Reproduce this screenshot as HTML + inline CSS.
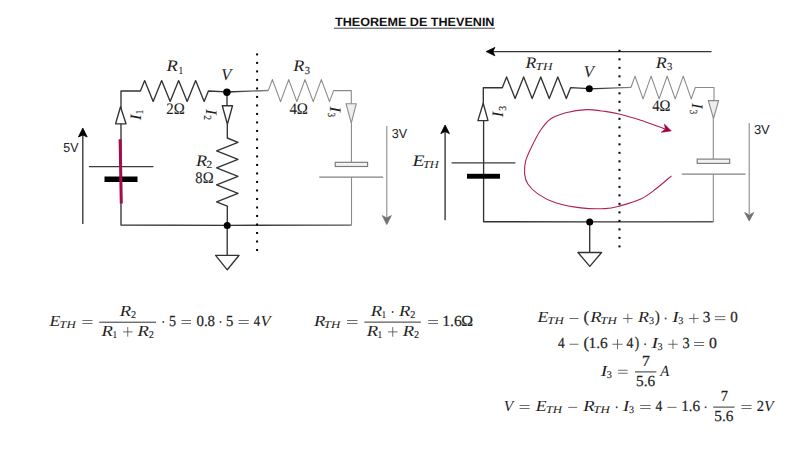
<!DOCTYPE html>
<html><head><meta charset="utf-8"><style>
html,body{margin:0;padding:0;background:#fff;}
svg{display:block;}
text{text-rendering:geometricPrecision;}
</style></head><body>
<svg width="806" height="453" viewBox="0 0 806 453">
<rect width="806" height="453" fill="#fff"/>
<defs><linearGradient id="gw1" x1="227" y1="0" x2="268" y2="0" gradientUnits="userSpaceOnUse"><stop offset="0" stop-color="#222"/><stop offset="1" stop-color="#888"/></linearGradient><linearGradient id="gw2" x1="589" y1="0" x2="631" y2="0" gradientUnits="userSpaceOnUse"><stop offset="0" stop-color="#222"/><stop offset="1" stop-color="#888"/></linearGradient><linearGradient id="gb1" x1="227" y1="0" x2="352" y2="0" gradientUnits="userSpaceOnUse"><stop offset="0" stop-color="#333"/><stop offset="1" stop-color="#555"/></linearGradient><linearGradient id="gb2" x1="589" y1="0" x2="714" y2="0" gradientUnits="userSpaceOnUse"><stop offset="0" stop-color="#333"/><stop offset="1" stop-color="#555"/></linearGradient></defs>
<path d="M121.00 124.00 L121.00 91.00 L140.40 91.00 L144.65 80.60 L153.15 101.40 L161.65 80.60 L170.15 101.40 L178.65 80.60 L187.15 101.40 L195.65 80.60 L204.15 101.40 L208.40 91.00 L226.80 91.80" stroke="#333333" stroke-width="1.35" fill="none" stroke-linejoin="round"/>
<path d="M121.00 124.00 L121.00 225.00 L227.30 225.30" stroke="#333333" stroke-width="1.35" fill="none" stroke-linejoin="round"/>
<path d="M115.60 123.80 L126.00 123.80 L120.50 106.80 Z" stroke="#333333" stroke-width="1.35" fill="#fff" stroke-linejoin="round"/>
<line x1="88.9" y1="166.6" x2="153.4" y2="166.6" stroke="#3a3a3a" stroke-width="1.15"/>
<rect x="104.5" y="176.5" width="33" height="5.5" fill="#000"/>
<line x1="120.1" y1="139.3" x2="121.3" y2="203.5" stroke="#A50D4A" stroke-width="3"/>
<line x1="82.8" y1="223.9" x2="82.8" y2="135" stroke="#333333" stroke-width="1.35"/>
<path d="M82.8 128.1 L87.2 137 L82.8 135 L78.4 137 Z" stroke="#000" stroke-width="0.8" fill="#000" stroke-linejoin="round"/>
<path d="M227.00 92.00 L227.00 105.70" stroke="#333333" stroke-width="1.35" fill="none" stroke-linejoin="round"/>
<path d="M222.30 105.70 L232.50 105.70 L227.40 124.30 Z" stroke="#333333" stroke-width="1.35" fill="#fff" stroke-linejoin="round"/>
<path d="M227.30 124.30 L227.30 138.00 L238.00 142.26 L216.60 150.79 L238.00 159.31 L216.60 167.84 L238.00 176.36 L216.60 184.89 L238.00 193.41 L216.60 201.94 L227.30 206.20 L227.30 225.30" stroke="#333333" stroke-width="1.35" fill="none" stroke-linejoin="round"/>
<line x1="227.2" y1="225.5" x2="227.2" y2="255.3" stroke="#333333" stroke-width="1.35"/>
<path d="M215.60 255.30 L239.10 255.30 L227.30 269.80 Z" stroke="#333333" stroke-width="1.35" fill="#fff" stroke-linejoin="round"/>
<path d="M227.30 225.30 L351.50 225.10" stroke="url(#gb1)" stroke-width="1.35" fill="none" stroke-linejoin="round"/>
<path d="M226.8 92 L268.3 90.5" stroke="url(#gw1)" stroke-width="1.3" fill="none"/>
<path d="M268.30 90.60 L272.38 79.60 L280.54 101.60 L288.71 79.60 L296.87 101.60 L305.03 79.60 L313.19 101.60 L321.36 79.60 L329.52 101.60 L333.60 90.60 L351.30 90.60 L351.30 103.70" stroke="#8a8a8a" stroke-width="1.1" fill="none" stroke-linejoin="round"/>
<path d="M346.00 103.70 L356.30 103.70 L351.30 123.20 Z" stroke="#8a8a8a" stroke-width="1.1" fill="#eeeeee" stroke-linejoin="round"/>
<line x1="351.4" y1="123.2" x2="351.4" y2="162.3" stroke="#8a8a8a" stroke-width="1.1"/>
<rect x="335.2" y="162.3" width="32.4" height="4.2" fill="#f2f2f2" stroke="#7a7a7a" stroke-width="1.15"/>
<line x1="319.3" y1="177.2" x2="383.1" y2="177.2" stroke="#828282" stroke-width="1.25"/>
<line x1="351.5" y1="177.2" x2="351.5" y2="225.3" stroke="#8a8a8a" stroke-width="1.1"/>
<line x1="386.8" y1="126.1" x2="386.8" y2="218" stroke="#8a8a8a" stroke-width="1.1"/>
<path d="M386.8 224.5 L391.3 215.6 L386.8 218 L382.3 215.6 Z" stroke="#707070" stroke-width="0.8" fill="#707070" stroke-linejoin="round"/>
<rect x="256.1" y="53.40" width="2" height="2" fill="#000"/><rect x="256.1" y="61.90" width="2" height="2" fill="#000"/><rect x="256.1" y="70.41" width="2" height="2" fill="#000"/><rect x="256.1" y="78.91" width="2" height="2" fill="#000"/><rect x="256.1" y="87.42" width="2" height="2" fill="#000"/><rect x="256.1" y="95.92" width="2" height="2" fill="#000"/><rect x="256.1" y="104.42" width="2" height="2" fill="#000"/><rect x="256.1" y="112.93" width="2" height="2" fill="#000"/><rect x="256.1" y="121.43" width="2" height="2" fill="#000"/><rect x="256.1" y="129.94" width="2" height="2" fill="#000"/><rect x="256.1" y="138.44" width="2" height="2" fill="#000"/><rect x="256.1" y="146.94" width="2" height="2" fill="#000"/><rect x="256.1" y="155.45" width="2" height="2" fill="#000"/><rect x="256.1" y="163.95" width="2" height="2" fill="#000"/><rect x="256.1" y="172.46" width="2" height="2" fill="#000"/><rect x="256.1" y="180.96" width="2" height="2" fill="#000"/><rect x="256.1" y="189.46" width="2" height="2" fill="#000"/><rect x="256.1" y="197.97" width="2" height="2" fill="#000"/><rect x="256.1" y="206.47" width="2" height="2" fill="#000"/><rect x="256.1" y="214.98" width="2" height="2" fill="#000"/><rect x="256.1" y="223.48" width="2" height="2" fill="#000"/><rect x="256.1" y="231.98" width="2" height="2" fill="#000"/><rect x="256.1" y="240.49" width="2" height="2" fill="#000"/><rect x="256.1" y="248.99" width="2" height="2" fill="#000"/>
<line x1="711.5" y1="51.6" x2="492" y2="51.6" stroke="#333333" stroke-width="1.35"/>
<path d="M486 51.6 L495 47.3 L493 51.6 L495 55.9 Z" stroke="#000" stroke-width="0.6" fill="#000" stroke-linejoin="round"/>
<path d="M483.30 120.60 L483.30 87.70 L502.30 87.70 L506.57 76.90 L515.11 98.50 L523.64 76.90 L532.18 98.50 L540.72 76.90 L549.26 98.50 L557.79 76.90 L566.33 98.50 L570.60 87.70 L589.30 88.60" stroke="#333333" stroke-width="1.35" fill="none" stroke-linejoin="round"/>
<path d="M483.60 120.60 L483.60 221.70 L589.70 221.90" stroke="#333333" stroke-width="1.35" fill="none" stroke-linejoin="round"/>
<path d="M477.90 120.60 L488.00 120.60 L483.20 103.30 Z" stroke="#333333" stroke-width="1.35" fill="#fff" stroke-linejoin="round"/>
<line x1="451.6" y1="162.9" x2="515.4" y2="162.9" stroke="#3a3a3a" stroke-width="1.15"/>
<rect x="467" y="173.8" width="33" height="4.9" fill="#000"/>
<line x1="445.1" y1="220.2" x2="445.1" y2="131" stroke="#333333" stroke-width="1.35"/>
<path d="M445.1 125.0 L449.4 133.6 L445.1 131.6 L440.8 133.6 Z" stroke="#000" stroke-width="0.8" fill="#000" stroke-linejoin="round"/>
<line x1="589.7" y1="222" x2="589.7" y2="252.5" stroke="#333333" stroke-width="1.35"/>
<path d="M578.00 252.50 L601.60 252.50 L589.80 266.40 Z" stroke="#333333" stroke-width="1.35" fill="#fff" stroke-linejoin="round"/>
<path d="M589.70 221.90 L713.30 221.70" stroke="url(#gb2)" stroke-width="1.35" fill="none" stroke-linejoin="round"/>
<path d="M589.3 88.8 L631 87.4" stroke="url(#gw2)" stroke-width="1.3" fill="none"/>
<path d="M631.00 87.50 L635.02 76.10 L643.06 98.90 L651.09 76.10 L659.13 98.90 L667.17 76.10 L675.21 98.90 L683.24 76.10 L691.28 98.90 L695.30 87.50 L714.00 87.50 L714.00 100.60" stroke="#8a8a8a" stroke-width="1.1" fill="none" stroke-linejoin="round"/>
<path d="M708.30 100.60 L718.60 100.60 L713.50 118.50 Z" stroke="#8a8a8a" stroke-width="1.1" fill="#eeeeee" stroke-linejoin="round"/>
<line x1="713.3" y1="118.5" x2="713.3" y2="158.9" stroke="#8a8a8a" stroke-width="1.1"/>
<rect x="697.2" y="159.1" width="32.5" height="4.3" fill="#f2f2f2" stroke="#7a7a7a" stroke-width="1.15"/>
<line x1="681.8" y1="174" x2="745.6" y2="174" stroke="#828282" stroke-width="1.25"/>
<line x1="713.3" y1="174" x2="713.3" y2="221.9" stroke="#8a8a8a" stroke-width="1.1"/>
<line x1="749.2" y1="122.9" x2="749.2" y2="214" stroke="#8a8a8a" stroke-width="1.1"/>
<path d="M749.2 221.0 L753.7 212.6 L749.2 215 L744.7 212.6 Z" stroke="#707070" stroke-width="0.8" fill="#707070" stroke-linejoin="round"/>
<rect x="618.5" y="49.80" width="2" height="2" fill="#000"/><rect x="618.5" y="58.30" width="2" height="2" fill="#000"/><rect x="618.5" y="66.81" width="2" height="2" fill="#000"/><rect x="618.5" y="75.31" width="2" height="2" fill="#000"/><rect x="618.5" y="83.82" width="2" height="2" fill="#000"/><rect x="618.5" y="92.32" width="2" height="2" fill="#000"/><rect x="618.5" y="100.82" width="2" height="2" fill="#000"/><rect x="618.5" y="109.33" width="2" height="2" fill="#000"/><rect x="618.5" y="117.83" width="2" height="2" fill="#000"/><rect x="618.5" y="126.34" width="2" height="2" fill="#000"/><rect x="618.5" y="134.84" width="2" height="2" fill="#000"/><rect x="618.5" y="143.34" width="2" height="2" fill="#000"/><rect x="618.5" y="151.85" width="2" height="2" fill="#000"/><rect x="618.5" y="160.35" width="2" height="2" fill="#000"/><rect x="618.5" y="168.86" width="2" height="2" fill="#000"/><rect x="618.5" y="177.36" width="2" height="2" fill="#000"/><rect x="618.5" y="185.86" width="2" height="2" fill="#000"/><rect x="618.5" y="194.37" width="2" height="2" fill="#000"/><rect x="618.5" y="202.87" width="2" height="2" fill="#000"/><rect x="618.5" y="211.38" width="2" height="2" fill="#000"/><rect x="618.5" y="219.88" width="2" height="2" fill="#000"/><rect x="618.5" y="228.38" width="2" height="2" fill="#000"/><rect x="618.5" y="236.89" width="2" height="2" fill="#000"/><rect x="618.5" y="245.39" width="2" height="2" fill="#000"/>
<path d="M671.50 175.80 C668.92 177.97 661.12 184.93 656.00 188.80 C650.88 192.67 646.93 196.12 640.80 199.00 C634.67 201.88 625.15 204.50 619.20 206.10 C613.25 207.70 611.47 208.30 605.10 208.60 C598.73 208.90 589.25 208.87 581.00 207.90 C572.75 206.93 562.80 205.13 555.60 202.80 C548.40 200.47 542.45 197.07 537.80 193.90 C533.15 190.73 529.90 187.18 527.70 183.80 C525.50 180.42 524.93 177.42 524.60 173.60 C524.27 169.78 524.55 165.33 525.70 160.90 C526.85 156.47 529.05 152.07 531.50 147.00 C533.95 141.93 537.23 135.17 540.40 130.50 C543.57 125.83 546.27 121.97 550.50 119.00 C554.73 116.03 559.87 114.27 565.80 112.70 C571.73 111.13 579.55 109.82 586.10 109.60 C592.65 109.38 599.58 110.67 605.10 111.40 C610.62 112.13 613.25 112.52 619.20 114.00 C625.15 115.48 634.25 118.20 640.80 120.30 C647.35 122.40 654.47 125.17 658.50 126.60 C662.53 128.03 663.92 128.52 665.00 128.90" stroke="#B0205A" stroke-width="1.1" fill="none"/>
<path d="M671.3 130.9 L664.3 123.9 L665.3 128.9 L661.1 132.4 Z" fill="#A50040" stroke="#A50040" stroke-width="0.5"/>
<circle cx="226.9" cy="92.2" r="3.7" fill="#000"/>
<circle cx="227.2" cy="225.5" r="3.5" fill="#000"/>
<circle cx="589.3" cy="88.8" r="3.5" fill="#000"/>
<circle cx="589.7" cy="222" r="3.5" fill="#000"/>
<text transform="matrix(1.1562 0 0 1 166.59 71.10)" font-family="Liberation Serif" font-style="italic" font-weight="normal" font-size="16.00" fill="#1e1e1e">R</text>
<text transform="matrix(0.8668 0 0 1 178.38 73.60)" font-family="Liberation Serif" font-style="normal" font-weight="normal" font-size="10.80" fill="#1e1e1e" stroke="#1e1e1e" stroke-width="0.12">1</text>
<text transform="matrix(0.9259 0 0 1 166.33 113.90)" font-family="Liberation Serif" font-style="normal" font-weight="normal" font-size="16.00" fill="#1e1e1e" stroke="#1e1e1e" stroke-width="0.12">2Ω</text>
<text transform="matrix(1.0116 0 0 1 221.23 79.76)" font-family="Liberation Serif" font-style="italic" font-weight="normal" font-size="16.30" fill="#1e1e1e">V</text>
<text transform="matrix(1.1354 0 0 1 293.29 71.10)" font-family="Liberation Serif" font-style="italic" font-weight="normal" font-size="16.00" fill="#1e1e1e">R</text>
<text transform="matrix(0.9652 0 0 1 304.70 73.59)" font-family="Liberation Serif" font-style="normal" font-weight="normal" font-size="10.80" fill="#1e1e1e" stroke="#1e1e1e" stroke-width="0.12">3</text>
<text transform="matrix(0.9328 0 0 1 289.40 114.10)" font-family="Liberation Serif" font-style="normal" font-weight="normal" font-size="16.00" fill="#1e1e1e" stroke="#1e1e1e" stroke-width="0.12">4Ω</text>
<text transform="matrix(1.1354 0 0 1 195.99 166.30)" font-family="Liberation Serif" font-style="italic" font-weight="normal" font-size="16.00" fill="#1e1e1e">R</text>
<text transform="matrix(1.0648 0 0 1 206.48 168.30)" font-family="Liberation Serif" font-style="normal" font-weight="normal" font-size="10.80" fill="#1e1e1e" stroke="#1e1e1e" stroke-width="0.12">2</text>
<text transform="matrix(0.9145 0 0 1 195.35 183.04)" font-family="Liberation Serif" font-style="normal" font-weight="normal" font-size="16.00" fill="#1e1e1e" stroke="#1e1e1e" stroke-width="0.12">8Ω</text>
<text transform="matrix(1.1042 0 0 1 525.59 67.90)" font-family="Liberation Serif" font-style="italic" font-weight="normal" font-size="16.00" fill="#1e1e1e">R</text>
<text transform="matrix(1.2223 0 0 1 535.54 69.60)" font-family="Liberation Serif" font-style="italic" font-weight="normal" font-size="10.80" fill="#1e1e1e">TH</text>
<text transform="matrix(1.0209 0 0 1 583.83 77.06)" font-family="Liberation Serif" font-style="italic" font-weight="normal" font-size="16.30" fill="#1e1e1e">V</text>
<text transform="matrix(1.1250 0 0 1 655.79 67.90)" font-family="Liberation Serif" font-style="italic" font-weight="normal" font-size="16.00" fill="#1e1e1e">R</text>
<text transform="matrix(0.9877 0 0 1 667.09 69.79)" font-family="Liberation Serif" font-style="normal" font-weight="normal" font-size="10.80" fill="#1e1e1e" stroke="#1e1e1e" stroke-width="0.12">3</text>
<text transform="matrix(0.9168 0 0 1 652.21 110.90)" font-family="Liberation Serif" font-style="normal" font-weight="normal" font-size="16.00" fill="#1e1e1e" stroke="#1e1e1e" stroke-width="0.12">4Ω</text>
<text transform="matrix(1.2243 0 0 1 412.44 165.90)" font-family="Liberation Serif" font-style="italic" font-weight="normal" font-size="16.00" fill="#1e1e1e">E</text>
<text transform="matrix(1.1560 0 0 1 422.89 167.90)" font-family="Liberation Serif" font-style="italic" font-weight="normal" font-size="10.80" fill="#1e1e1e">TH</text>
<g transform="translate(141.0 120.7) rotate(-90)">
<text transform="matrix(1.1167 0 0 1 0.34 0.00)" font-family="Liberation Serif" font-style="italic" font-weight="normal" font-size="16.00" fill="#1e1e1e">I</text>
<text transform="matrix(0.8143 0 0 1 6.53 2.00)" font-family="Liberation Serif" font-style="normal" font-weight="normal" font-size="10.80" fill="#1e1e1e" stroke="#1e1e1e" stroke-width="0.12">1</text>
</g>
<g transform="translate(206.0 108.6) rotate(90)">
<text transform="matrix(1.0833 0 0 1 0.34 0.00)" font-family="Liberation Serif" font-style="italic" font-weight="normal" font-size="16.00" fill="#1e1e1e">I</text>
<text transform="matrix(0.8796 0 0 1 6.67 1.90)" font-family="Liberation Serif" font-style="normal" font-weight="normal" font-size="10.80" fill="#1e1e1e" stroke="#1e1e1e" stroke-width="0.12">2</text>
</g>
<g transform="translate(330.0 105.8) rotate(90)">
<text transform="matrix(1.1167 0 0 1 0.34 0.00)" font-family="Liberation Serif" font-style="italic" font-weight="normal" font-size="16.00" fill="#1e1e1e">I</text>
<text transform="matrix(0.8530 0 0 1 6.66 2.09)" font-family="Liberation Serif" font-style="normal" font-weight="normal" font-size="10.80" fill="#1e1e1e" stroke="#1e1e1e" stroke-width="0.12">3</text>
</g>
<g transform="translate(692.3 102.6) rotate(90)">
<text transform="matrix(1.0667 0 0 1 0.34 0.00)" font-family="Liberation Serif" font-style="italic" font-weight="normal" font-size="16.00" fill="#1e1e1e">I</text>
<text transform="matrix(0.8081 0 0 1 7.09 2.09)" font-family="Liberation Serif" font-style="normal" font-weight="normal" font-size="10.80" fill="#1e1e1e" stroke="#1e1e1e" stroke-width="0.12">3</text>
</g>
<g transform="translate(503.0 117.7) rotate(-90)">
<text transform="matrix(1.0333 0 0 1 0.34 0.00)" font-family="Liberation Serif" font-style="italic" font-weight="normal" font-size="16.00" fill="#1e1e1e">I</text>
<text transform="matrix(0.8979 0 0 1 6.84 2.89)" font-family="Liberation Serif" font-style="normal" font-weight="normal" font-size="10.80" fill="#1e1e1e" stroke="#1e1e1e" stroke-width="0.12">3</text>
</g>
<text transform="matrix(0.9538 0 0 1 63.30 152.07)" font-family="Liberation Sans" font-style="normal" font-weight="normal" font-size="13.00" fill="#222">5V</text>
<text transform="matrix(0.9648 0 0 1 391.73 138.17)" font-family="Liberation Sans" font-style="normal" font-weight="normal" font-size="13.00" fill="#222">3V</text>
<text transform="matrix(0.9974 0 0 1 753.91 134.17)" font-family="Liberation Sans" font-style="normal" font-weight="normal" font-size="13.00" fill="#222">3V</text>
<text transform="matrix(1.0485 0 0 1 335.07 25.98)" font-family="Liberation Sans" font-style="normal" font-weight="bold" font-size="12.00" fill="#111">THEOREME DE THEVENIN</text>
<rect x="333.8" y="27.7" width="161.1" height="1.0" fill="#444"/>
<text transform="matrix(1.1437 0 0 1 49.42 325.80)" font-family="Liberation Serif" font-style="italic" font-weight="normal" font-size="15.40" fill="#1e1e1e">E</text>
<text transform="matrix(1.2464 0 0 1 59.26 327.60)" font-family="Liberation Serif" font-style="italic" font-weight="normal" font-size="10.40" fill="#1e1e1e">TH</text>
<rect x="82.40" y="320.00" width="10.10" height="0.8" fill="#4a4a4a"/>
<rect x="82.40" y="323.00" width="10.10" height="0.8" fill="#4a4a4a"/>
<rect x="99.20" y="321.70" width="56.80" height="1.0" fill="#333333"/>
<text transform="matrix(1.2121 0 0 1 119.79 315.60)" font-family="Liberation Serif" font-style="italic" font-weight="normal" font-size="15.40" fill="#1e1e1e">R</text>
<text transform="matrix(0.9856 0 0 1 130.94 317.60)" font-family="Liberation Serif" font-style="normal" font-weight="normal" font-size="10.40" fill="#1e1e1e" stroke="#1e1e1e" stroke-width="0.12">2</text>
<text transform="matrix(1.2121 0 0 1 101.59 335.60)" font-family="Liberation Serif" font-style="italic" font-weight="normal" font-size="15.40" fill="#1e1e1e">R</text>
<text transform="matrix(0.9002 0 0 1 112.38 337.60)" font-family="Liberation Serif" font-style="normal" font-weight="normal" font-size="10.40" fill="#1e1e1e" stroke="#1e1e1e" stroke-width="0.12">1</text>
<rect x="123.00" y="331.50" width="9.60" height="0.8" fill="#4a4a4a"/>
<rect x="127.40" y="327.10" width="0.8" height="9.60" fill="#4a4a4a"/>
<text transform="matrix(1.2121 0 0 1 137.59 335.60)" font-family="Liberation Serif" font-style="italic" font-weight="normal" font-size="15.40" fill="#1e1e1e">R</text>
<text transform="matrix(0.9856 0 0 1 148.74 337.60)" font-family="Liberation Serif" font-style="normal" font-weight="normal" font-size="10.40" fill="#1e1e1e" stroke="#1e1e1e" stroke-width="0.12">2</text>
<circle cx="163.3" cy="322.10" r="1.0" fill="#4a4a4a"/>
<text transform="matrix(0.9196 0 0 1 168.89 325.65)" font-family="Liberation Serif" font-style="normal" font-weight="normal" font-size="15.40" fill="#1e1e1e" stroke="#1e1e1e" stroke-width="0.22">5</text>
<rect x="181.50" y="320.00" width="9.60" height="0.8" fill="#4a4a4a"/>
<rect x="181.50" y="323.00" width="9.60" height="0.8" fill="#4a4a4a"/>
<text transform="matrix(0.9671 0 0 1 196.44 325.77)" font-family="Liberation Serif" font-style="normal" font-weight="normal" font-size="15.40" fill="#1e1e1e" stroke="#1e1e1e" stroke-width="0.22">0.8</text>
<circle cx="220.5" cy="322.10" r="1.0" fill="#4a4a4a"/>
<text transform="matrix(0.9518 0 0 1 225.96 325.80)" font-family="Liberation Serif" font-style="normal" font-weight="normal" font-size="15.40" fill="#1e1e1e" stroke="#1e1e1e" stroke-width="0.22">5</text>
<rect x="238.60" y="320.00" width="10.10" height="0.8" fill="#4a4a4a"/>
<rect x="238.60" y="323.00" width="10.10" height="0.8" fill="#4a4a4a"/>
<text transform="matrix(0.8239 0 0 1 253.85 325.80)" font-family="Liberation Serif" font-style="normal" font-weight="normal" font-size="15.40" fill="#1e1e1e" stroke="#1e1e1e" stroke-width="0.22">4</text>
<text transform="matrix(1.0806 0 0 1 260.43 325.77)" font-family="Liberation Serif" font-style="italic" font-weight="normal" font-size="15.40" fill="#1e1e1e">V</text>
<text transform="matrix(1.2121 0 0 1 313.89 325.80)" font-family="Liberation Serif" font-style="italic" font-weight="normal" font-size="15.40" fill="#1e1e1e">R</text>
<text transform="matrix(1.2464 0 0 1 323.86 327.60)" font-family="Liberation Serif" font-style="italic" font-weight="normal" font-size="10.40" fill="#1e1e1e">TH</text>
<rect x="347.00" y="320.00" width="10.50" height="0.8" fill="#4a4a4a"/>
<rect x="347.00" y="323.00" width="10.50" height="0.8" fill="#4a4a4a"/>
<rect x="364.40" y="321.60" width="56.50" height="1.0" fill="#333333"/>
<text transform="matrix(1.2121 0 0 1 370.79 315.60)" font-family="Liberation Serif" font-style="italic" font-weight="normal" font-size="15.40" fill="#1e1e1e">R</text>
<text transform="matrix(0.9002 0 0 1 381.58 317.60)" font-family="Liberation Serif" font-style="normal" font-weight="normal" font-size="10.40" fill="#1e1e1e" stroke="#1e1e1e" stroke-width="0.12">1</text>
<circle cx="392.7" cy="311.90" r="1.0" fill="#4a4a4a"/>
<text transform="matrix(1.2121 0 0 1 398.99 315.60)" font-family="Liberation Serif" font-style="italic" font-weight="normal" font-size="15.40" fill="#1e1e1e">R</text>
<text transform="matrix(0.9856 0 0 1 410.14 317.60)" font-family="Liberation Serif" font-style="normal" font-weight="normal" font-size="10.40" fill="#1e1e1e" stroke="#1e1e1e" stroke-width="0.12">2</text>
<text transform="matrix(1.2121 0 0 1 366.79 335.60)" font-family="Liberation Serif" font-style="italic" font-weight="normal" font-size="15.40" fill="#1e1e1e">R</text>
<text transform="matrix(0.9002 0 0 1 377.58 337.60)" font-family="Liberation Serif" font-style="normal" font-weight="normal" font-size="10.40" fill="#1e1e1e" stroke="#1e1e1e" stroke-width="0.12">1</text>
<rect x="388.00" y="331.50" width="9.60" height="0.8" fill="#4a4a4a"/>
<rect x="392.40" y="327.10" width="0.8" height="9.60" fill="#4a4a4a"/>
<text transform="matrix(1.2121 0 0 1 402.79 335.60)" font-family="Liberation Serif" font-style="italic" font-weight="normal" font-size="15.40" fill="#1e1e1e">R</text>
<text transform="matrix(0.9856 0 0 1 413.94 337.60)" font-family="Liberation Serif" font-style="normal" font-weight="normal" font-size="10.40" fill="#1e1e1e" stroke="#1e1e1e" stroke-width="0.12">2</text>
<rect x="428.20" y="320.00" width="9.80" height="0.8" fill="#4a4a4a"/>
<rect x="428.20" y="323.00" width="9.80" height="0.8" fill="#4a4a4a"/>
<text transform="matrix(1.0206 0 0 1 442.22 325.77)" font-family="Liberation Serif" font-style="normal" font-weight="normal" font-size="15.40" fill="#1e1e1e" stroke="#1e1e1e" stroke-width="0.22">1.6</text>
<text transform="matrix(1.0349 0 0 1 461.26 325.80)" font-family="Liberation Serif" font-style="normal" font-weight="normal" font-size="15.40" fill="#1e1e1e" stroke="#1e1e1e" stroke-width="0.22">Ω</text>
<text transform="matrix(1.1544 0 0 1 537.52 322.10)" font-family="Liberation Serif" font-style="italic" font-weight="normal" font-size="15.40" fill="#1e1e1e">E</text>
<text transform="matrix(1.2464 0 0 1 547.36 323.90)" font-family="Liberation Serif" font-style="italic" font-weight="normal" font-size="10.40" fill="#1e1e1e">TH</text>
<rect x="569.50" y="318.00" width="9.00" height="0.8" fill="#4a4a4a"/>
<text transform="matrix(1.0238 0 0 1 583.46 322.38)" font-family="Liberation Serif" font-style="normal" font-weight="normal" font-size="16.09" fill="#1e1e1e" stroke="#1e1e1e" stroke-width="0.22">(</text>
<text transform="matrix(1.2121 0 0 1 590.29 322.10)" font-family="Liberation Serif" font-style="italic" font-weight="normal" font-size="15.40" fill="#1e1e1e">R</text>
<text transform="matrix(1.2464 0 0 1 600.26 323.90)" font-family="Liberation Serif" font-style="italic" font-weight="normal" font-size="10.40" fill="#1e1e1e">TH</text>
<rect x="623.10" y="318.00" width="9.50" height="0.8" fill="#4a4a4a"/>
<rect x="627.45" y="313.65" width="0.8" height="9.50" fill="#4a4a4a"/>
<text transform="matrix(1.1688 0 0 1 637.99 322.10)" font-family="Liberation Serif" font-style="italic" font-weight="normal" font-size="15.40" fill="#1e1e1e">R</text>
<text transform="matrix(0.9790 0 0 1 649.12 324.00)" font-family="Liberation Serif" font-style="normal" font-weight="normal" font-size="10.40" fill="#1e1e1e" stroke="#1e1e1e" stroke-width="0.12">3</text>
<text transform="matrix(0.8811 0 0 1 654.93 322.33)" font-family="Liberation Serif" font-style="normal" font-weight="normal" font-size="16.31" fill="#1e1e1e" stroke="#1e1e1e" stroke-width="0.22">)</text>
<circle cx="665.6" cy="318.40" r="1.0" fill="#4a4a4a"/>
<text transform="matrix(1.2641 0 0 1 672.35 322.10)" font-family="Liberation Serif" font-style="italic" font-weight="normal" font-size="15.40" fill="#1e1e1e">I</text>
<text transform="matrix(0.9790 0 0 1 678.32 324.00)" font-family="Liberation Serif" font-style="normal" font-weight="normal" font-size="10.40" fill="#1e1e1e" stroke="#1e1e1e" stroke-width="0.12">3</text>
<rect x="689.10" y="318.00" width="9.50" height="0.8" fill="#4a4a4a"/>
<rect x="693.45" y="313.65" width="0.8" height="9.50" fill="#4a4a4a"/>
<text transform="matrix(0.9917 0 0 1 702.87 322.10)" font-family="Liberation Serif" font-style="normal" font-weight="normal" font-size="15.40" fill="#1e1e1e" stroke="#1e1e1e" stroke-width="0.22">3</text>
<rect x="714.90" y="316.30" width="10.50" height="0.8" fill="#4a4a4a"/>
<rect x="714.90" y="319.30" width="10.50" height="0.8" fill="#4a4a4a"/>
<text transform="matrix(0.9778 0 0 1 730.34 322.15)" font-family="Liberation Serif" font-style="normal" font-weight="normal" font-size="15.40" fill="#1e1e1e" stroke="#1e1e1e" stroke-width="0.22">0</text>
<text transform="matrix(0.8658 0 0 1 558.03 347.90)" font-family="Liberation Serif" font-style="normal" font-weight="normal" font-size="15.40" fill="#1e1e1e" stroke="#1e1e1e" stroke-width="0.22">4</text>
<rect x="569.50" y="343.80" width="9.00" height="0.8" fill="#4a4a4a"/>
<text transform="matrix(1.0099 0 0 1 583.46 348.13)" font-family="Liberation Serif" font-style="normal" font-weight="normal" font-size="16.31" fill="#1e1e1e" stroke="#1e1e1e" stroke-width="0.22">(</text>
<text transform="matrix(0.9977 0 0 1 588.46 347.87)" font-family="Liberation Serif" font-style="normal" font-weight="normal" font-size="15.40" fill="#1e1e1e" stroke="#1e1e1e" stroke-width="0.22">1.6</text>
<rect x="612.40" y="343.80" width="10.20" height="0.8" fill="#4a4a4a"/>
<rect x="617.10" y="339.10" width="0.8" height="10.20" fill="#4a4a4a"/>
<text transform="matrix(0.8937 0 0 1 626.62 347.90)" font-family="Liberation Serif" font-style="normal" font-weight="normal" font-size="15.40" fill="#1e1e1e" stroke="#1e1e1e" stroke-width="0.22">4</text>
<text transform="matrix(0.7988 0 0 1 634.67 348.09)" font-family="Liberation Serif" font-style="normal" font-weight="normal" font-size="16.53" fill="#1e1e1e" stroke="#1e1e1e" stroke-width="0.22">)</text>
<circle cx="645.2" cy="344.20" r="1.0" fill="#4a4a4a"/>
<text transform="matrix(1.2814 0 0 1 651.55 347.90)" font-family="Liberation Serif" font-style="italic" font-weight="normal" font-size="15.40" fill="#1e1e1e">I</text>
<text transform="matrix(0.9790 0 0 1 657.52 349.80)" font-family="Liberation Serif" font-style="normal" font-weight="normal" font-size="10.40" fill="#1e1e1e" stroke="#1e1e1e" stroke-width="0.12">3</text>
<rect x="668.20" y="343.80" width="9.50" height="0.8" fill="#4a4a4a"/>
<rect x="672.55" y="339.45" width="0.8" height="9.50" fill="#4a4a4a"/>
<text transform="matrix(0.9288 0 0 1 682.52 347.90)" font-family="Liberation Serif" font-style="normal" font-weight="normal" font-size="15.40" fill="#1e1e1e" stroke="#1e1e1e" stroke-width="0.22">3</text>
<rect x="694.00" y="342.10" width="10.10" height="0.8" fill="#4a4a4a"/>
<rect x="694.00" y="345.10" width="10.10" height="0.8" fill="#4a4a4a"/>
<text transform="matrix(1.0237 0 0 1 708.91 347.95)" font-family="Liberation Serif" font-style="normal" font-weight="normal" font-size="15.40" fill="#1e1e1e" stroke="#1e1e1e" stroke-width="0.22">0</text>
<text transform="matrix(1.2641 0 0 1 600.85 375.60)" font-family="Liberation Serif" font-style="italic" font-weight="normal" font-size="15.40" fill="#1e1e1e">I</text>
<text transform="matrix(0.9790 0 0 1 606.82 377.50)" font-family="Liberation Serif" font-style="normal" font-weight="normal" font-size="10.40" fill="#1e1e1e" stroke="#1e1e1e" stroke-width="0.12">3</text>
<rect x="618.10" y="369.80" width="9.50" height="0.8" fill="#4a4a4a"/>
<rect x="618.10" y="372.80" width="9.50" height="0.8" fill="#4a4a4a"/>
<rect x="635.00" y="371.40" width="21.40" height="1.0" fill="#333333"/>
<text transform="matrix(1.0261 0 0 1 641.97 365.60)" font-family="Liberation Serif" font-style="normal" font-weight="normal" font-size="15.40" fill="#1e1e1e" stroke="#1e1e1e" stroke-width="0.22">7</text>
<text transform="matrix(0.9943 0 0 1 636.12 386.37)" font-family="Liberation Serif" font-style="normal" font-weight="normal" font-size="15.40" fill="#1e1e1e" stroke="#1e1e1e" stroke-width="0.22">5.6</text>
<text transform="matrix(0.9595 0 0 1 660.21 375.60)" font-family="Liberation Serif" font-style="italic" font-weight="normal" font-size="15.40" fill="#1e1e1e">A</text>
<text transform="matrix(1.0112 0 0 1 503.68 410.97)" font-family="Liberation Serif" font-style="italic" font-weight="normal" font-size="15.40" fill="#1e1e1e">V</text>
<rect x="519.60" y="405.20" width="10.00" height="0.8" fill="#4a4a4a"/>
<rect x="519.60" y="408.20" width="10.00" height="0.8" fill="#4a4a4a"/>
<text transform="matrix(1.1544 0 0 1 535.82 411.00)" font-family="Liberation Serif" font-style="italic" font-weight="normal" font-size="15.40" fill="#1e1e1e">E</text>
<text transform="matrix(1.2464 0 0 1 545.66 412.80)" font-family="Liberation Serif" font-style="italic" font-weight="normal" font-size="10.40" fill="#1e1e1e">TH</text>
<rect x="568.20" y="406.90" width="9.00" height="0.8" fill="#4a4a4a"/>
<text transform="matrix(1.2121 0 0 1 583.29 411.00)" font-family="Liberation Serif" font-style="italic" font-weight="normal" font-size="15.40" fill="#1e1e1e">R</text>
<text transform="matrix(1.2464 0 0 1 593.26 412.80)" font-family="Liberation Serif" font-style="italic" font-weight="normal" font-size="10.40" fill="#1e1e1e">TH</text>
<circle cx="616.7" cy="407.30" r="1.0" fill="#4a4a4a"/>
<text transform="matrix(1.2121 0 0 1 623.05 411.00)" font-family="Liberation Serif" font-style="italic" font-weight="normal" font-size="15.40" fill="#1e1e1e">I</text>
<text transform="matrix(0.9790 0 0 1 629.02 412.90)" font-family="Liberation Serif" font-style="normal" font-weight="normal" font-size="10.40" fill="#1e1e1e" stroke="#1e1e1e" stroke-width="0.12">3</text>
<rect x="640.20" y="405.20" width="10.50" height="0.8" fill="#4a4a4a"/>
<rect x="640.20" y="408.20" width="10.50" height="0.8" fill="#4a4a4a"/>
<text transform="matrix(0.8798 0 0 1 655.43 411.00)" font-family="Liberation Serif" font-style="normal" font-weight="normal" font-size="15.40" fill="#1e1e1e" stroke="#1e1e1e" stroke-width="0.22">4</text>
<rect x="667.50" y="406.90" width="9.00" height="0.8" fill="#4a4a4a"/>
<text transform="matrix(0.9919 0 0 1 681.16 410.97)" font-family="Liberation Serif" font-style="normal" font-weight="normal" font-size="15.40" fill="#1e1e1e" stroke="#1e1e1e" stroke-width="0.22">1.6</text>
<circle cx="705.6" cy="407.30" r="1.0" fill="#4a4a4a"/>
<rect x="713.20" y="406.60" width="21.40" height="1.0" fill="#333333"/>
<text transform="matrix(0.9460 0 0 1 720.75 400.60)" font-family="Liberation Serif" font-style="normal" font-weight="normal" font-size="15.40" fill="#1e1e1e" stroke="#1e1e1e" stroke-width="0.22">7</text>
<text transform="matrix(0.9943 0 0 1 714.32 421.37)" font-family="Liberation Serif" font-style="normal" font-weight="normal" font-size="15.40" fill="#1e1e1e" stroke="#1e1e1e" stroke-width="0.22">5.6</text>
<rect x="741.50" y="405.20" width="10.00" height="0.8" fill="#4a4a4a"/>
<rect x="741.50" y="408.20" width="10.00" height="0.8" fill="#4a4a4a"/>
<text transform="matrix(0.9416 0 0 1 756.85 411.00)" font-family="Liberation Serif" font-style="normal" font-weight="normal" font-size="15.40" fill="#1e1e1e" stroke="#1e1e1e" stroke-width="0.22">2</text>
<text transform="matrix(1.0310 0 0 1 764.07 410.97)" font-family="Liberation Serif" font-style="italic" font-weight="normal" font-size="15.40" fill="#1e1e1e">V</text>
</svg>
</body></html>
